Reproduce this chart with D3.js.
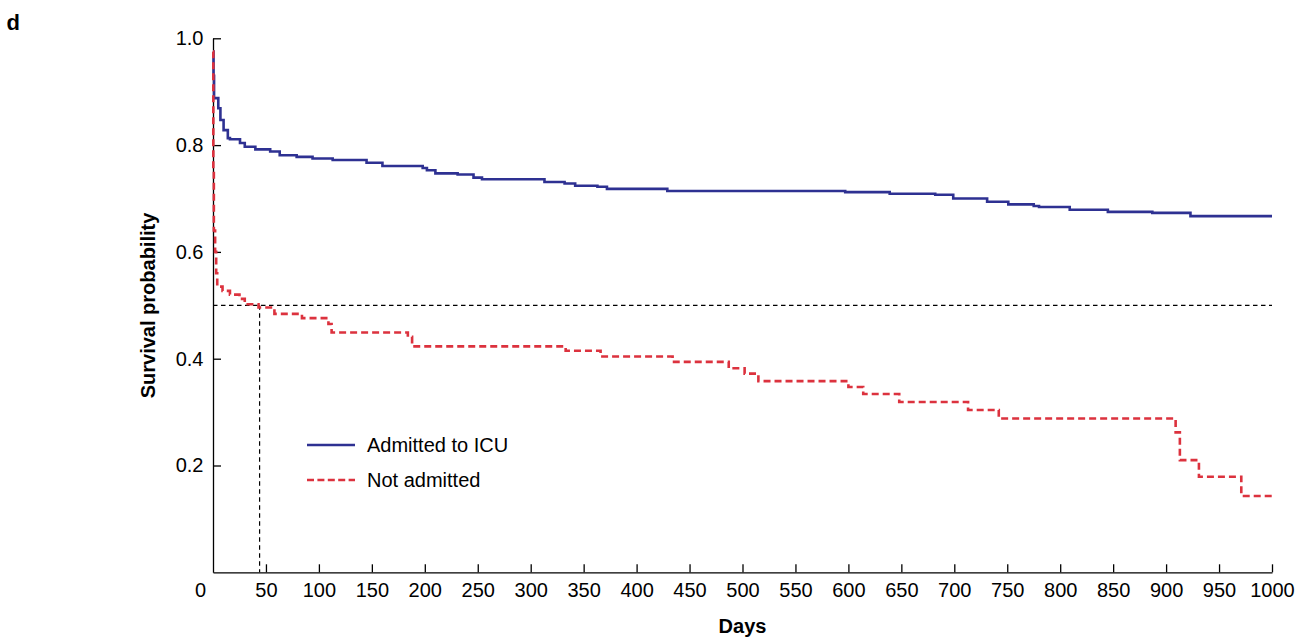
<!DOCTYPE html>
<html>
<head>
<meta charset="utf-8">
<script src="https://cdn.jsdelivr.net/npm/d3@7"></script>
<style>
  html, body { margin: 0; padding: 0; background: #fff; }
  svg { display: block; font-family: "Liberation Sans", Arial, Helvetica, sans-serif; }
</style>
</head>
<body>
<svg id="chart" width="1309" height="642"></svg>
<script>
// ---- data ----
const icuDays = [0, 0.5, 1, 5, 7, 10, 14, 16, 25.5, 30, 40, 54, 63, 79, 94, 113, 145, 160, 198, 202, 210, 231, 246, 254, 313, 332, 342, 363, 372, 429, 597, 639, 682, 699, 731, 751, 775, 780, 809, 845, 887, 923, 1000];
const icuSurv = [0.975, 0.93, 0.888, 0.869, 0.847, 0.828, 0.813, 0.811, 0.804, 0.797, 0.792, 0.788, 0.781, 0.778, 0.775, 0.772, 0.767, 0.761, 0.757, 0.753, 0.747, 0.745, 0.739, 0.736, 0.731, 0.728, 0.724, 0.722, 0.718, 0.714, 0.712, 0.709, 0.707, 0.700, 0.694, 0.689, 0.686, 0.684, 0.679, 0.675, 0.673, 0.667, 0.667];

const notDays = [0, 0.3, 0.8, 2, 3, 4, 9, 16, 25, 30, 43, 58, 84, 109, 112, 184, 188, 333, 366, 434, 487, 502, 515, 600, 614, 648, 713, 742, 909, 913, 931, 971, 1000];
const notSurv = [0.975, 0.75, 0.64, 0.60, 0.56, 0.535, 0.527, 0.52, 0.512, 0.502, 0.496, 0.484, 0.476, 0.465, 0.449, 0.441, 0.423, 0.415, 0.404, 0.394, 0.382, 0.372, 0.358, 0.347, 0.334, 0.319, 0.304, 0.288, 0.262, 0.210, 0.179, 0.143, 0.143];

const xTicks = [50, 100, 150, 200, 250, 300, 350, 400, 450, 500, 550, 600, 650, 700, 750, 800, 850, 900, 950, 1000];
const yTicks = [0.2, 0.4, 0.6, 0.8, 1.0];
const seriesNames = ["Admitted to ICU", "Not admitted"];
const medianDay = 44;
const medianLevel = 0.5;

// ---- drawing ----
const svg = d3.select("#chart");
const x = d3.scaleLinear().domain([0, 1000]).range([213, 1272]);
const y = d3.scaleLinear().domain([0, 1]).range([572.3, 38.3]);

const blue = "#2e3192";
const red = "#dc323e";
const fontSize = 20;

// reference dashed lines
svg.append("line")
  .attr("x1", x(0)).attr("x2", x(1000))
  .attr("y1", y(medianLevel)).attr("y2", y(medianLevel))
  .attr("stroke", "#000").attr("stroke-width", 1.2).attr("stroke-dasharray", "4.5,3.5");
svg.append("line")
  .attr("x1", x(medianDay)).attr("x2", x(medianDay))
  .attr("y1", y(medianLevel)).attr("y2", y(0))
  .attr("stroke", "#000").attr("stroke-width", 1.2).attr("stroke-dasharray", "4.5,3.5");

// axes
const xAxis = d3.axisBottom(x).tickValues(xTicks).tickFormat(d3.format("d"))
  .tickSizeInner(-8).tickSizeOuter(0).tickPadding(11);
const gx = svg.append("g").attr("transform", `translate(0,${y(0)})`).call(xAxis);
gx.selectAll("text").attr("font-size", fontSize).attr("fill", "#000").attr("font-family", null);
gx.selectAll("line, path").attr("stroke", "#000").attr("stroke-width", 1.3);

const yAxis = d3.axisLeft(y).tickValues(yTicks).tickFormat(d3.format(".1f"))
  .tickSizeInner(-8).tickSizeOuter(0).tickPadding(9.5);
const gy = svg.append("g").attr("transform", `translate(${x(0)},0)`).call(yAxis);
gy.selectAll("text").attr("font-size", fontSize).attr("fill", "#000").attr("font-family", null);
gy.selectAll("line, path").attr("stroke", "#000").attr("stroke-width", 1.3);

// lone "0" label at the origin
svg.append("text").attr("x", 200.5).attr("y", y(0)).attr("dy", 25)
  .attr("text-anchor", "middle").attr("font-size", fontSize).text("0");

// curves
const line = d3.line().x(d => x(d[0])).y(d => y(d[1])).curve(d3.curveStepAfter);
const icu = icuDays.map((d, i) => [d, icuSurv[i]]);
const notAdm = notDays.map((d, i) => [d, notSurv[i]]);

svg.append("path").datum(icu).attr("d", line)
  .attr("fill", "none").attr("stroke", blue).attr("stroke-width", 2.6);
svg.append("path").datum(notAdm).attr("d", line)
  .attr("fill", "none").attr("stroke", red).attr("stroke-width", 2.6).attr("stroke-dasharray", "7,4");

// legend
const legend = [
  { name: seriesNames[0], color: blue, dash: null, y: 445 },
  { name: seriesNames[1], color: red, dash: "7,3.4", y: 480 }
];
legend.forEach(l => {
  svg.append("line").attr("x1", 307).attr("x2", 355).attr("y1", l.y).attr("y2", l.y)
    .attr("stroke", l.color).attr("stroke-width", 2.6).attr("stroke-dasharray", l.dash);
  svg.append("text").attr("x", 367).attr("y", l.y + 7).attr("font-size", fontSize).text(l.name);
});

// axis titles
svg.append("text").attr("x", (x(0) + x(1000)) / 2).attr("y", 633)
  .attr("text-anchor", "middle").attr("font-size", fontSize).attr("font-weight", "bold").text("Days");
svg.append("text").attr("transform", `translate(155,305.5) rotate(-90)`)
  .attr("text-anchor", "middle").attr("font-size", fontSize).attr("font-weight", "bold").text("Survival probability");

// panel letter
svg.append("text").attr("x", 6.5).attr("y", 30).attr("font-size", 22).attr("font-weight", "bold").text("d");
</script>
</body>
</html>
